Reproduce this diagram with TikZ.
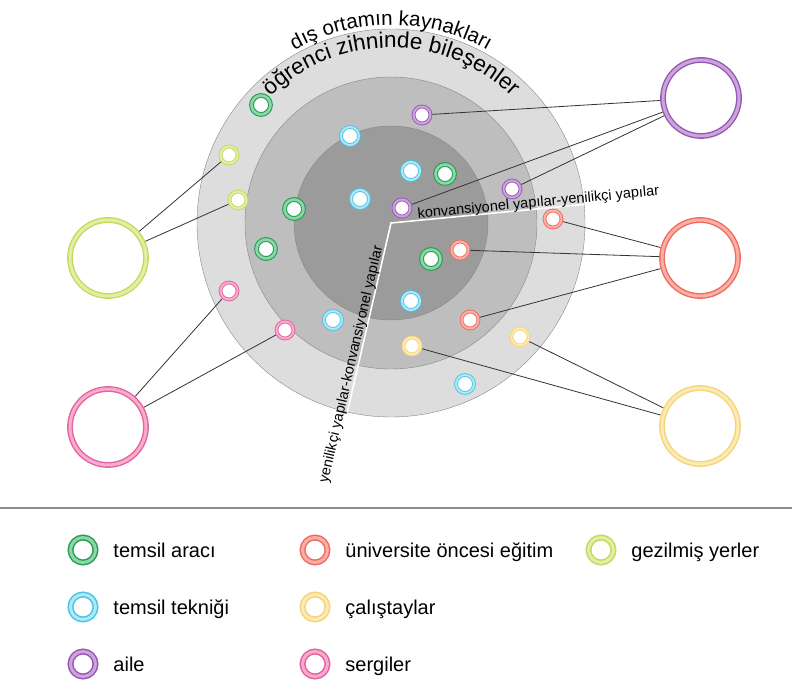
\documentclass[tikz,border=0pt]{standalone}
\usepackage{fontspec}
\setmainfont{Liberation Sans}
\usepackage{xcolor}
\usepackage{tikz}
\usetikzlibrary{decorations.text,positioning}
\definecolor{aracgreen}{RGB}{40,158,88}
\definecolor{araclight}{RGB}{140,215,165}
\definecolor{teknikcyan}{RGB}{75,195,230}
\definecolor{tekniklight}{RGB}{175,232,247}
\definecolor{ailepurple}{RGB}{150,88,178}
\definecolor{ailelight}{RGB}{205,165,222}
\definecolor{egitimred}{RGB}{238,108,98}
\definecolor{egitimlight}{RGB}{250,175,165}
\definecolor{calisyellow}{RGB}{246,212,118}
\definecolor{calislight}{RGB}{252,234,180}
\definecolor{yerlerlime}{RGB}{196,218,92}
\definecolor{yerlerlight}{RGB}{226,238,165}
\definecolor{sergipink}{RGB}{228,98,158}
\definecolor{sergilight}{RGB}{246,172,206}
\definecolor{ringouter}{RGB}{221,221,222}
\definecolor{ringmiddle}{RGB}{190,190,190}
\definecolor{ringinner}{RGB}{155,155,155}
\definecolor{ringedge}{RGB}{135,135,135}

\begin{document}
\begin{tikzpicture}[x=1pt, y=1pt,
  dot/.style 2 args={circle, inner sep=0pt, outer sep=2pt, minimum size=17pt, fill=white,
    draw=#1, line width=0.9pt, double=#2, double distance=2pt},
  arac/.style={dot={aracgreen}{araclight}, minimum size=19pt, line width=1.1pt, double distance=2.6pt},
  teknik/.style={dot={teknikcyan}{tekniklight}, minimum size=18pt},
  aile/.style={dot={ailepurple}{ailelight}},
  egitim/.style={dot={egitimred}{egitimlight}},
  calis/.style={dot={calisyellow}{calislight}},
  yerler/.style={dot={yerlerlime}{yerlerlight}},
  sergi/.style={dot={sergipink}{sergilight}},
  bigring/.style 2 args={circle, inner sep=0pt, outer sep=3pt, minimum size=76pt, fill=white,
    draw=#1, line width=1.4pt, double=#2, double distance=3pt},
  legendring/.style 2 args={circle, inner sep=0pt, minimum size=25pt, fill=white,
    draw=#1, line width=1.5pt, double=#2, double distance=3pt},
  legendtext/.style={font=\fontsize{20}{24}\selectfont, inner sep=0pt, anchor=base west, yshift=-7.5pt},
  axistext/.style={font=\fontsize{14.5}{17}\selectfont, inner sep=0pt},
  link/.style={draw=black!80, line width=0.8pt}]

\useasboundingbox (0,0) rectangle (792,682);

\coordinate (mid) at (391,459);
\coordinate (axdown) at ([shift={(257:194)}]mid);
\coordinate (axright) at ([shift={(5.5:194)}]mid);

% three levels
\filldraw[draw=ringedge, fill=ringouter] (mid) circle (194);
\filldraw[draw=ringedge, fill=ringmiddle] (mid) circle (146);
\filldraw[draw=ringedge, fill=ringinner] (mid) circle (97);

\draw[white, line width=1.6pt] (axdown) -- (mid) -- (axright);

\path[decorate, decoration={text along path, text align=center,
  text={|\fontsize{20.5}{24}\selectfont|dış ortamın kaynakları}}]
  ([shift={(150:198)}]mid) arc[start angle=150, end angle=30, radius=198];
\path[decorate, decoration={text along path, text align=center,
  text={|\fontsize{22.5}{26}\selectfont|öğrenci zihninde bileşenler}}]
  ([shift={(150:175)}]mid) arc[start angle=150, end angle=30, radius=175];

\node (konv) [axistext, rotate=5.5, anchor=base west] at ([shift={(5.5:27)}, yshift=2pt]mid)
  {konvansiyonel yapılar-yenilikçi yapılar};
\node (yeni) [axistext, rotate=77, anchor=base east] at ([shift={(257:25)}, shift={(167:3)}]mid)
  {yenilikçi yapılar-konvansiyonel yapılar};

% components
\node (g1) [arac] at (261,577) {};
\node (g2) [arac] at (445,508) {};
\node (g3) [arac] at (294,473) {};
\node (g4) [arac] at (266,433) {};
\node (g5) [arac] at (431,423) {};

\node (t1) [teknik] at (350,546) {};
\node (t2) [teknik] at (411,511) {};
\node (t3) [teknik] at (360,483) {};
\node (t4) [teknik] at (411,381) {};
\node (t5) [teknik] at (333,362) {};
\node (t6) [teknik] at (465,298) {};

\node (a1) [aile] at (422,567) {};
\node (a2) [aile] at (402,474) {};
\node (a3) [aile] at (512,493) {};

\node (e1) [egitim] at (553,463) {};
\node (e2) [egitim] at (460,432) {};
\node (e3) [egitim] at (470,362) {};

\node (c1) [calis] at (412,336) {};
\node (c2) [calis] at (520,345) {};

\node (y1) [yerler] at (229,527) {};
\node (y2) [yerler] at (238,482) {};

\node (s1) [sergi] at (229,391) {};
\node (s2) [sergi] at (285,352) {};

% sources
\node (bigaile) [bigring={ailepurple}{ailelight}] at (701,584) {};
\node (bigegitim) [bigring={egitimred}{egitimlight}] at (700,424) {};
\node (bigcalis) [bigring={calisyellow}{calislight}] at (700,256) {};
\node (bigyerler) [bigring={yerlerlime}{yerlerlight}] at (108,424) {};
\node (bigsergi) [bigring={sergipink}{sergilight}] at (108,255) {};

\draw[link] (a1) -- (bigaile);
\draw[link] (a2) -- (bigaile);
\draw[link] (a3) -- (bigaile);
\draw[link] (e1) -- (bigegitim);
\draw[link] (e2) -- (bigegitim);
\draw[link] (e3) -- (bigegitim);
\draw[link] (c1) -- (bigcalis);
\draw[link] (c2) -- (bigcalis);
\draw[link] (y1) -- (bigyerler);
\draw[link] (y2) -- (bigyerler);
\draw[link] (s1) -- (bigsergi);
\draw[link] (s2) -- (bigsergi);

% legend
\coordinate (sepleft) at (0,174);
\coordinate (sepright) at (792,174);
\draw[draw=black!45, line width=2.5pt] (sepleft) -- (sepright);

\node (lgarac) [legendring={aracgreen}{araclight}] at (83,132) {};
\node (lgteknik) [legendring={teknikcyan}{tekniklight}] at (83,75) {};
\node (lgaile) [legendring={ailepurple}{ailelight}] at (83,18) {};
\node (lgegitim) [legendring={egitimred}{egitimlight}] at (315,132) {};
\node (lgcalis) [legendring={calisyellow}{calislight}] at (315,75) {};
\node (lgsergi) [legendring={sergipink}{sergilight}] at (315,18) {};
\node (lgyerler) [legendring={yerlerlime}{yerlerlight}] at (601,132) {};

\node (tarac) [right=17pt of lgarac, legendtext] {temsil aracı};
\node (tteknik) [right=17pt of lgteknik, legendtext] {temsil tekniği};
\node (taile) [right=17pt of lgaile, legendtext] {aile};
\node (tegitim) [right=17pt of lgegitim, legendtext] {üniversite öncesi eğitim};
\node (tcalis) [right=17pt of lgcalis, legendtext] {çalıştaylar};
\node (tsergi) [right=17pt of lgsergi, legendtext] {sergiler};
\node (tyerler) [right=17pt of lgyerler, legendtext] {gezilmiş yerler};

\end{tikzpicture}
\end{document}
